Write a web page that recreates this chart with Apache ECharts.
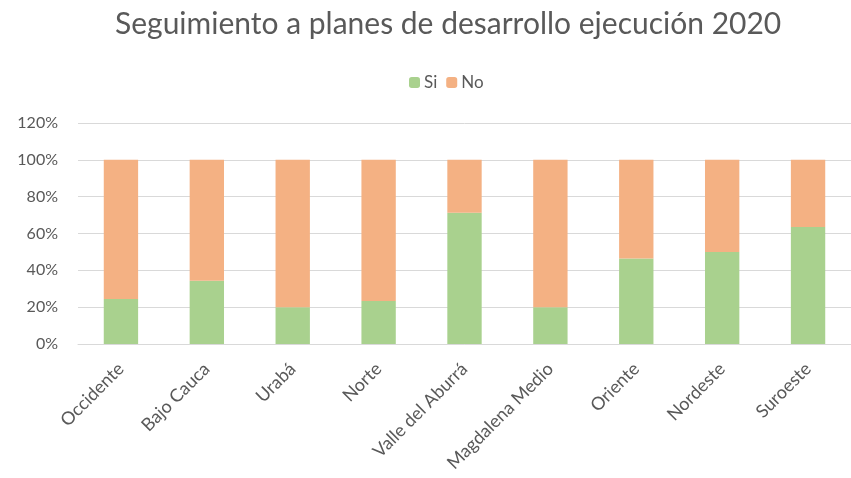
<!DOCTYPE html>
<html>
<head>
<meta charset="utf-8">
<script src="https://cdn.jsdelivr.net/npm/echarts@6/dist/echarts.min.js"></script>
<style>html,body{margin:0;padding:0;background:#fff;}#c{width:851px;height:478px;}</style>
</head>
<body>
<div id="c"></div>
<script>
const categories = ['Occidente','Bajo Cauca','Urabá','Norte','Valle del Aburrá','Magdalena Medio','Oriente','Nordeste','Suroeste'];
const siValues = [24.5, 34.3, 20, 23.4, 71.2, 20, 46.4, 50, 63.5];
const noValues = [75.5, 65.7, 80, 76.6, 28.8, 80, 53.6, 50, 36.5];
const yTicks = [0, 20, 40, 60, 80, 100, 120];

const FONT = 'Lato';
const chart = echarts.init(document.getElementById('c'), null, {renderer: 'canvas'});
chart.setOption({
  animation: false,
  textStyle: {fontFamily: FONT},
  title: {
    text: 'Seguimiento a planes de desarrollo ejecución 2020',
    left: 110, top: 4,
    textStyle: {fontFamily: FONT, fontSize: 30, fontWeight: 'normal', color: '#595959'}
  },
  legend: {
    data: ['Si', 'No'],
    top: 69, left: 404,
    itemWidth: 11, itemHeight: 11, itemGap: 9,
    textStyle: {fontFamily: FONT, fontSize: 17, color: '#595959', padding: [0, 0, 0, -1]}
  },
  grid: {left: 78, top: 123, width: 783, height: 221, containLabel: false},
  xAxis: {
    type: 'category',
    data: categories,
    axisLine: {lineStyle: {color: '#D9D9D9', width: 1}},
    axisTick: {show: false},
    axisLabel: {rotate: 45, fontFamily: FONT, fontSize: 18, color: '#595959', margin: 22, interval: 0}
  },
  yAxis: {
    type: 'value',
    min: yTicks[0], max: yTicks[yTicks.length - 1], interval: 20,
    axisLine: {show: false},
    axisTick: {show: false},
    splitLine: {lineStyle: {color: '#D9D9D9', width: 1}},
    axisLabel: {formatter: '{value}%', fontFamily: FONT, fontSize: 16, color: '#595959', margin: 20}
  },
  series: [
    {name: 'Si', type: 'bar', stack: 't', data: siValues, barWidth: '40%', itemStyle: {color: '#A9D18E'}},
    {name: 'No', type: 'bar', stack: 't', data: noValues, barWidth: '40%', itemStyle: {color: '#F4B183'}}
  ]
});
</script>
</body>
</html>
